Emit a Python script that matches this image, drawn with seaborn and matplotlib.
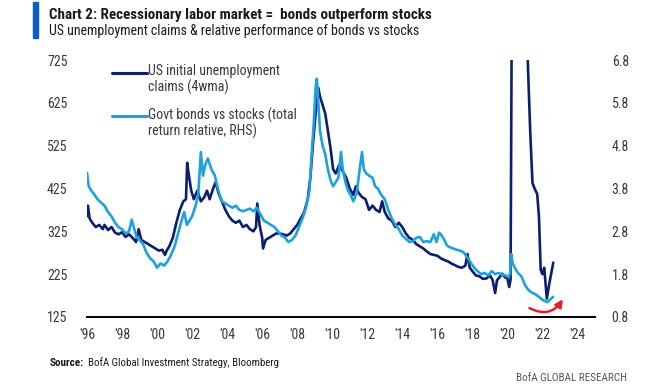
import matplotlib
matplotlib.use("Agg")
import matplotlib.pyplot as plt
import seaborn as sns
from matplotlib.lines import Line2D
from matplotlib.patches import Rectangle

sns.set_style("white")
plt.rcParams["font.family"] = ["Roboto Condensed", "Lato", "DejaVu Sans"]

# US initial unemployment claims, 4wma (thousands, LHS)
claims_year = [
    1996.0, 1996.05, 1996.15, 1996.3, 1996.5, 1996.7, 1996.9, 1997.0, 1997.2, 1997.4,
    1997.6, 1997.8, 1998.0, 1998.2, 1998.4, 1998.6, 1998.8, 1998.95, 1999.1, 1999.3,
    1999.5, 1999.7, 1999.9, 2000.1, 2000.3, 2000.45, 2000.55, 2000.7, 2000.9, 2001.1,
    2001.3, 2001.5, 2001.65, 2001.72, 2001.8, 2001.95, 2002.1, 2002.3, 2002.5, 2002.7,
    2002.85, 2003.0, 2003.2, 2003.35, 2003.5, 2003.7, 2003.9, 2004.1, 2004.3, 2004.5,
    2004.7, 2004.9, 2005.1, 2005.3, 2005.5, 2005.65, 2005.72, 2005.85, 2006.0, 2006.05,
    2006.2, 2006.4, 2006.6, 2006.8, 2007.0, 2007.2, 2007.4, 2007.6, 2007.8, 2008.0,
    2008.2, 2008.4, 2008.6, 2008.75, 2008.9, 2009.05, 2009.2, 2009.3, 2009.45, 2009.6,
    2009.75, 2009.9, 2010.05, 2010.2, 2010.4, 2010.6, 2010.8, 2011.0, 2011.2, 2011.35,
    2011.5, 2011.7, 2011.9, 2012.1, 2012.3, 2012.5, 2012.7, 2012.85, 2013.0, 2013.2,
    2013.4, 2013.6, 2013.8, 2014.0, 2014.2, 2014.4, 2014.6, 2014.8, 2015.0, 2015.2,
    2015.4, 2015.6, 2015.8, 2016.0, 2016.2, 2016.4, 2016.6, 2016.8, 2017.0, 2017.2,
    2017.4, 2017.6, 2017.72, 2017.85, 2018.0, 2018.2, 2018.4, 2018.6, 2018.8, 2019.0,
    2019.15, 2019.3, 2019.4, 2019.55, 2019.7, 2019.85, 2020.0, 2020.1, 2020.18, 2020.25,
    2020.3, 2020.4, 2020.6, 2020.8, 2021.0, 2021.16, 2021.3, 2021.43, 2021.55, 2021.7,
    2021.8, 2021.9, 2022.0, 2022.1, 2022.25, 2022.4, 2022.62,
]
claims = [
    360, 385, 355, 345, 335, 340, 330, 340, 328, 335,
    322, 318, 323, 312, 318, 310, 300, 330, 305, 300,
    295, 290, 285, 280, 282, 270, 280, 290, 310, 345,
    375, 395, 400, 485, 460, 420, 400, 420, 395, 405,
    420, 400, 425, 440, 415, 395, 375, 360, 350, 345,
    350, 335, 340, 330, 325, 335, 390, 340, 310, 285,
    305, 310, 315, 320, 320, 318, 315, 320, 330, 340,
    355, 370, 400, 450, 530, 600, 660, 640, 620, 600,
    560, 520, 470, 460, 480, 465, 450, 425, 410, 430,
    415, 405, 400, 375, 385, 375, 370, 395, 370, 355,
    350, 335, 345, 335, 320, 310, 305, 295, 290, 285,
    278, 272, 270, 268, 262, 258, 255, 250, 246, 242,
    240, 245, 272, 240, 232, 222, 220, 214, 215, 222,
    212, 181, 210, 218, 226, 218, 215, 195, 212, 800,
    2500, 4000, 1500, 900, 800, 725, 560, 438, 425, 412,
    360, 235, 225, 240, 168, 205, 252,
]

# Govt bonds vs stocks, total return relative (RHS)
bonds_year = [
    1996.0, 1996.1, 1996.25, 1996.4, 1996.6, 1996.8, 1997.0, 1997.2, 1997.4, 1997.6,
    1997.8, 1998.0, 1998.2, 1998.4, 1998.55, 1998.7, 1998.85, 1999.0, 1999.2, 1999.4,
    1999.6, 1999.8, 2000.0, 2000.2, 2000.4, 2000.6, 2000.8, 2001.0, 2001.2, 2001.4,
    2001.55, 2001.7, 2001.85, 2002.0, 2002.2, 2002.35, 2002.5, 2002.62, 2002.75, 2002.9,
    2003.1, 2003.3, 2003.5, 2003.7, 2003.9, 2004.1, 2004.3, 2004.5, 2004.7, 2004.9,
    2005.1, 2005.3, 2005.5, 2005.7, 2005.9, 2006.1, 2006.3, 2006.5, 2006.7, 2006.9,
    2007.1, 2007.3, 2007.5, 2007.7, 2007.9, 2008.1, 2008.3, 2008.5, 2008.7, 2008.85,
    2008.95, 2009.05, 2009.12, 2009.2, 2009.3, 2009.45, 2009.6, 2009.75, 2009.9, 2010.05,
    2010.2, 2010.35, 2010.5, 2010.6, 2010.75, 2010.9, 2011.05, 2011.2, 2011.4, 2011.55,
    2011.7, 2011.8, 2011.95, 2012.1, 2012.3, 2012.45, 2012.6, 2012.8, 2013.0, 2013.2,
    2013.4, 2013.6, 2013.8, 2014.0, 2014.2, 2014.4, 2014.6, 2014.8, 2015.0, 2015.2,
    2015.4, 2015.6, 2015.8, 2015.95, 2016.1, 2016.25, 2016.4, 2016.55, 2016.7, 2016.9,
    2017.1, 2017.3, 2017.5, 2017.7, 2017.9, 2018.1, 2018.3, 2018.5, 2018.7, 2018.9,
    2019.1, 2019.3, 2019.5, 2019.7, 2019.9, 2020.05, 2020.15, 2020.22, 2020.3, 2020.45,
    2020.6, 2020.8, 2021.0, 2021.2, 2021.4, 2021.6, 2021.8, 2022.0, 2022.15, 2022.3,
    2022.45, 2022.6,
]
bonds_rel = [
    4.17, 3.85, 3.75, 3.67, 3.55, 3.47, 3.40, 3.25, 3.15, 3.00,
    2.90, 2.85, 2.75, 2.80, 3.07, 2.85, 2.65, 2.60, 2.50, 2.30,
    2.17, 2.10, 1.95, 2.05, 2.00, 2.10, 2.25, 2.45, 2.75, 3.05,
    3.25, 2.95, 3.05, 3.15, 3.40, 3.65, 4.65, 4.10, 4.35, 4.50,
    4.25, 4.10, 3.75, 3.50, 3.45, 3.40, 3.35, 3.40, 3.30, 3.27,
    3.30, 3.33, 3.27, 3.35, 3.20, 3.05, 3.00, 2.95, 2.90, 2.80,
    2.70, 2.65, 2.55, 2.60, 2.70, 2.90, 3.10, 3.35, 3.75, 4.75,
    5.35, 6.15, 6.36, 5.85, 5.15, 4.80, 4.60, 4.25, 4.00, 3.85,
    3.95, 4.05, 4.65, 4.25, 3.95, 3.75, 3.65, 3.50, 3.70, 4.20,
    4.65, 4.25, 4.15, 4.10, 4.05, 3.85, 3.80, 3.65, 3.55, 3.30,
    3.10, 2.95, 2.85, 2.70, 2.63, 2.55, 2.57, 2.65, 2.67, 2.55,
    2.57, 2.55, 2.73, 2.55, 2.77, 2.70, 2.60, 2.47, 2.43, 2.40,
    2.37, 2.35, 2.31, 2.20, 2.07, 1.95, 1.87, 1.80, 1.83, 1.77,
    1.87, 1.80, 1.83, 1.79, 1.77, 1.73, 1.80, 2.27, 2.05, 1.93,
    1.83, 1.75, 1.55, 1.43, 1.37, 1.33, 1.27, 1.20, 1.17, 1.15,
    1.21, 1.27,
]

left_ticks = [125, 225, 325, 425, 525, 625, 725]
right_ticks = [0.8, 1.8, 2.8, 3.8, 4.8, 5.8, 6.8]
x_ticks = list(range(1996, 2025, 2))
x_labels = ["'" + str(y)[2:] for y in x_ticks]

dark = "#0B1F6E"
light = "#1DA1DF"
grey = "#3A3A3A"

fig = plt.figure(figsize=(6.65, 3.85), dpi=100)
ax = fig.add_axes([87 / 665, 1 - 317 / 385, 508 / 665, 257 / 385])
ax2 = ax.twinx()

sns.lineplot(x=claims_year, y=claims, ax=ax, color=dark, lw=1.9)
sns.lineplot(x=bonds_year, y=bonds_rel, ax=ax2, color=light, lw=1.9)

ax.set_xlim(1996, 2025)
ax.set_ylim(125, 725)
ax2.set_ylim(0.8, 6.8)
ax.set_xticks(x_ticks)
ax.set_xticklabels(x_labels)
ax.set_yticks(left_ticks)
ax2.set_yticks(right_ticks)
ax2.set_yticklabels([f"{v:.1f}" for v in right_ticks])
for a in (ax, ax2):
    a.set_xlabel("")
    a.set_ylabel("")
    for s in ("top", "left", "right", "bottom"):
        a.spines[s].set_visible(False)
ax.spines["bottom"].set_visible(True)
ax.spines["bottom"].set_color("black")
ax.spines["bottom"].set_linewidth(1.4)
ax.tick_params(axis="y", length=0, pad=14, labelsize=10, labelcolor=grey)
ax.tick_params(axis="x", length=0, pad=8, labelsize=10, labelcolor=grey)
ax2.tick_params(axis="y", length=0, pad=12, labelsize=10, labelcolor=grey)

# legend drawn by hand so the swatch sits on the first text line
for yy, col, txt in [(0.951, dark, "US initial unemployment\nclaims (4wma)"),
                     (0.783, light, "Govt bonds vs stocks (total\nreturn relative, RHS)")]:
    ax.add_line(Line2D([0.049, 0.118], [yy, yy], transform=ax.transAxes,
                       color=col, lw=2.2, clip_on=False))
    ax.text(0.12, yy + 0.033, txt, transform=ax.transAxes, va="top", ha="left",
            fontsize=10, color=grey, linespacing=1.1)

# red arrow: turn in relative performance
ax.annotate("", xy=(2023.25, 172), xytext=(2021.12, 149),
            arrowprops=dict(arrowstyle="-|>", color="#E3202A", lw=1.8,
                            mutation_scale=11,
                            connectionstyle="arc3,rad=0.5"))

fig.patches.append(Rectangle((33 / 665, 1 - 38 / 385), 4.5 / 665, 36 / 385,
                             transform=fig.transFigure, color="#0B5CC4"))
fig.text(49 / 665, 1 - 14.5 / 385, "Chart 2: Recessionary labor market =  bonds outperform stocks",
         fontsize=10.9, fontweight="bold", color="#1A1A1A", va="center")
fig.text(49 / 665, 1 - 31 / 385, "US unemployment claims & relative performance of bonds vs stocks",
         fontsize=10, color="#1A1A1A", va="center")
fig.text(50 / 665, 1 - 363 / 385, "Source:", fontsize=8, fontweight="bold",
         color="#1A1A1A", va="center")
fig.text(88 / 665, 1 - 363 / 385, "BofA Global Investment Strategy, Bloomberg",
         fontsize=7.8, color="#1A1A1A", va="center")
fig.text(627 / 665, 1 - 378 / 385, "BofA GLOBAL RESEARCH", fontsize=8,
         color="#555555", va="center", ha="right")

fig.savefig("out.png", dpi=100)
